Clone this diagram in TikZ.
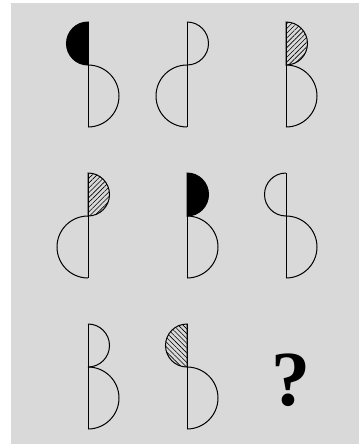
\documentclass[tikz,border=0pt]{standalone}
\usepackage{fontspec}
\setmainfont{Liberation Serif}
\usetikzlibrary{patterns.meta}
\definecolor{panelgray}{HTML}{D9D9D9}

\begin{document}
\begin{tikzpicture}[x=1pt,y=-1pt,
    outline/.style={draw, line width=1pt},
    solidhalf/.style={outline, fill=black},
    hatchne/.style={outline, pattern={Lines[angle=45,distance=3.4pt,line width=0.6pt]}},
    hatchnw/.style={outline, pattern={Lines[angle=-45,distance=3.4pt,line width=0.6pt]}},
    mark q/.style={font=\fontsize{78}{78}\selectfont\bfseries, inner sep=0pt}
]

% panel
\useasboundingbox (0,0) rectangle (360,445);
\fill[white] (0,0) rectangle (360,445);
\fill[panelgray] (11,3) rectangle (359,444);

% row 1
\draw[solidhalf] (88,22) arc[start angle=-90,end angle=-270,radius=21.5] -- cycle;
\draw[outline] (88,65) arc[start angle=-90,end angle=90,radius=31];
\draw[outline] (88,22) -- (88,127);

\draw[outline] (187,22) arc[start angle=-90,end angle=90,radius=21.5];
\draw[outline] (187,65) arc[start angle=-90,end angle=-270,radius=31];
\draw[outline] (187,22) -- (187,127);

\draw[hatchne] (286,22) arc[start angle=-90,end angle=90,radius=21.5] -- cycle;
\draw[outline] (286,65) arc[start angle=-90,end angle=90,radius=31];
\draw[outline] (286,22) -- (286,127);

% row 2
\draw[hatchne] (88,173) arc[start angle=-90,end angle=90,radius=21.5] -- cycle;
\draw[outline] (88,216) arc[start angle=-90,end angle=-270,radius=31];
\draw[outline] (88,173) -- (88,278);

\draw[solidhalf] (187,173) arc[start angle=-90,end angle=90,radius=21.5] -- cycle;
\draw[outline] (187,216) arc[start angle=-90,end angle=90,radius=31];
\draw[outline] (187,173) -- (187,278);

\draw[outline] (286,173) arc[start angle=-90,end angle=-270,radius=21.5];
\draw[outline] (286,216) arc[start angle=-90,end angle=90,radius=31];
\draw[outline] (286,173) -- (286,278);

% row 3
\draw[outline] (88,324) arc[start angle=-90,end angle=90,radius=21.5];
\draw[outline] (88,367) arc[start angle=-90,end angle=90,radius=31];
\draw[outline] (88,324) -- (88,429);

\draw[hatchnw] (187,324) arc[start angle=-90,end angle=-270,radius=21.5] -- cycle;
\draw[outline] (187,367) arc[start angle=-90,end angle=90,radius=31];
\draw[outline] (187,324) -- (187,429);

\node[mark q] (answer) at (291,380) {?};

\end{tikzpicture}
\end{document}
